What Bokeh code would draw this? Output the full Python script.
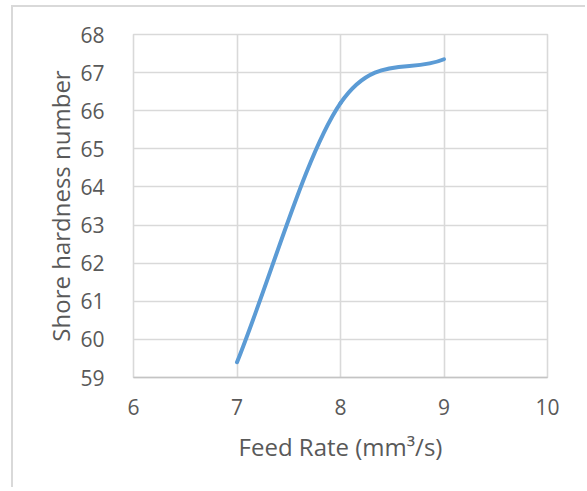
from bokeh.plotting import figure
from bokeh.models import Range1d, SingleIntervalTicker
from bokeh.embed import file_html
from bokeh.resources import INLINE
import numpy as np

# Data
feed_rate = [7, 8, 9]
hardness = [59.4, 66.2, 67.35]

x_ticks_interval = 1
y_ticks_interval = 1

TEXT = "#595959"
GRID = "#d9d9d9"
FONT = "Open Sans"

p = figure(width=574, height=482, x_range=Range1d(6, 10), y_range=Range1d(59, 68),
           output_backend="svg", toolbar_location=None,
           min_border_left=120, min_border_right=40, min_border_top=27, min_border_bottom=112)

p.styles = {"border-left": "2px solid #d9d9d9", "border-top": "2px solid #d9d9d9",
            "margin-left": "11px", "margin-top": "5px"}

p.outline_line_color = GRID
p.outline_line_width = 1.6
p.background_fill_color = "white"
p.border_fill_color = "white"

for ax in (p.xaxis[0], p.yaxis[0]):
    ax.major_tick_line_color = None
    ax.minor_tick_line_color = None
    ax.major_label_text_font = FONT
    ax.major_label_text_font_size = "21px"
    ax.major_label_text_color = TEXT
    ax.axis_label_text_font = FONT
    ax.axis_label_text_font_size = "24px"
    ax.axis_label_text_font_style = "normal"
    ax.axis_label_text_color = TEXT

p.xaxis.ticker = SingleIntervalTicker(interval=x_ticks_interval)
p.yaxis.ticker = SingleIntervalTicker(interval=y_ticks_interval)
p.xgrid.ticker = SingleIntervalTicker(interval=x_ticks_interval)
p.ygrid.ticker = SingleIntervalTicker(interval=y_ticks_interval)

p.xaxis.axis_label = "Feed Rate (mm³/s)"
p.yaxis.axis_label = "Shore hardness number"
p.xaxis.major_label_standoff = 15
p.yaxis.major_label_standoff = 23
p.xaxis.axis_label_standoff = 12
p.yaxis.axis_label_standoff = 0
p.xaxis.axis_line_color = "#c4c4c4"
p.xaxis.axis_line_width = 1.6
p.yaxis.axis_line_color = None

p.xgrid.grid_line_color = GRID
p.ygrid.grid_line_color = GRID
p.xgrid.grid_line_width = 1.6
p.ygrid.grid_line_width = 1.6

# Excel-style smoothed line (Bezier segments through the data points)
x = np.array(feed_rate, dtype=float)
y = np.array(hardness, dtype=float)
n = len(x)
x0, y0, x1, y1, cx0, cy0, cx1, cy1 = ([] for _ in range(8))
for i in range(n - 1):
    x0.append(x[i]); y0.append(y[i]); x1.append(x[i + 1]); y1.append(y[i + 1])
    if i > 0:
        cx0.append(x[i] + (x[i + 1] - x[i - 1]) / 6)
        cy0.append(y[i] + (y[i + 1] - y[i - 1]) / 6)
    else:
        cx0.append(x[i] + (x[i + 1] - x[i]) / 3)
        cy0.append(y[i] + (y[i + 1] - y[i]) / 3)
    if i + 2 < n:
        cx1.append(x[i + 1] - (x[i + 2] - x[i]) / 6)
        cy1.append(y[i + 1] - (y[i + 2] - y[i]) / 6)
    else:
        cx1.append(x[i + 1] - (x[i + 1] - x[i]) / 3)
        cy1.append(y[i + 1] - (y[i + 1] - y[i]) / 3)

p.bezier(x0=x0, y0=y0, x1=x1, y1=y1, cx0=cx0, cy0=cy0, cx1=cx1, cy1=cy1,
         line_color="#5b9bd5", line_width=4, line_cap="round")

open("out.html", "w").write(file_html(p, INLINE))
